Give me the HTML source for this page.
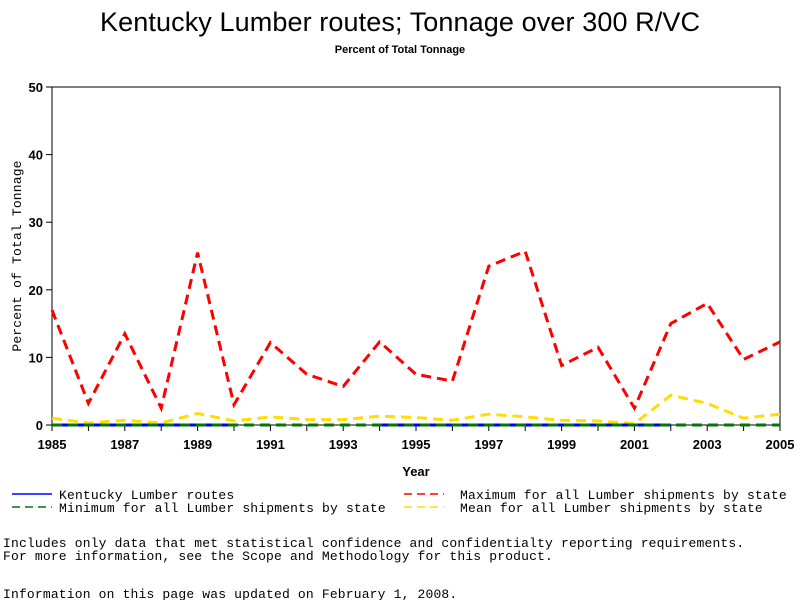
<!DOCTYPE html>
<html><head><meta charset="utf-8"><style>
body{margin:0;background:#fff;width:800px;height:600px;overflow:hidden}
svg text{font-family:"Liberation Sans",sans-serif}
.m{font-family:"Liberation Mono",monospace;font-size:13px;letter-spacing:0.17px}
</style></head><body>
<svg id="c" width="800" height="600" xmlns="http://www.w3.org/2000/svg">
<text x="400" y="31" text-anchor="middle" font-size="27" textLength="600">Kentucky Lumber routes; Tonnage over 300 R/VC</text>
<text x="400" y="53" text-anchor="middle" font-size="11" font-weight="bold">Percent of Total Tonnage</text>
<rect x="52" y="87" width="728" height="338" fill="none" stroke="#000"/>
<g id="axes"></g><g id="series"></g>
<text x="416" y="476" text-anchor="middle" font-size="13" font-weight="bold">Year</text>
<text transform="translate(21,256) rotate(-90)" text-anchor="middle" class="m" font-size="12">Percent of Total Tonnage</text>
<g>
<line x1="12" y1="494" x2="52" y2="494" stroke="#00f" stroke-width="1.5"/>
<text x="59" y="499" class="m">Kentucky Lumber routes</text>
<line x1="12" y1="507" x2="52" y2="507" stroke="#070" stroke-width="1.5" stroke-dasharray="8,5"/>
<text x="59" y="512" class="m">Minimum for all Lumber shipments by state</text>
<line x1="404" y1="494" x2="444" y2="494" stroke="#f00" stroke-width="1.5" stroke-dasharray="8,5"/>
<text x="460" y="499" class="m">Maximum for all Lumber shipments by state</text>
<line x1="404" y1="507" x2="444" y2="507" stroke="#fd0" stroke-width="1.5" stroke-dasharray="8,5"/>
<text x="460" y="512" class="m">Mean for all Lumber shipments by state</text>
</g>
<text x="3" y="547" class="m">Includes only data that met statistical confidence and confidentialty reporting requirements.</text>
<text x="3" y="560" class="m">For more information, see the Scope and Methodology for this product.</text>
<text x="3" y="598" class="m">Information on this page was updated on February 1, 2008.</text>
</svg>
<script>
const years=[1985,1986,1987,1988,1989,1990,1991,1992,1993,1994,1995,1996,1997,1998,1999,2000,2001,2002,2003,2004,2005];
const maxVals=[17,3.2,13.5,2.5,25.5,3,12.2,7.5,5.7,12.3,7.5,6.5,23.5,25.7,8.8,11.5,2.5,15,18,9.7,12.3];
const meanVals=[1,0.3,0.7,0.3,1.7,0.6,1.2,0.8,0.8,1.3,1.1,0.7,1.6,1.2,0.7,0.6,0.2,4.4,3.2,1,1.6];
const minVals=[0,0,0,0,0,0,0,0,0,0,0,0,0,0,0,0,0,0,0,0,0];
const kyVals=[0,0,0,0,0,0,null,null,null,0,0,0,0,0,0,0,0,0,null,null,null];
const yTicks=[0,10,20,30,40,50];
const xTickYears=[1985,1987,1989,1991,1993,1995,1997,1999,2001,2003,2005];
const NS="http://www.w3.org/2000/svg";
const X=y=>52+(y-1985)*(728/20), Y=v=>425-v*(338/50);
function mk(t,a,p){const e=document.createElementNS(NS,t);for(const k in a)e.setAttribute(k,a[k]);p.appendChild(e);return e;}
const ax=document.getElementById('axes');
yTicks.forEach(v=>{
 const l=mk('line',{x1:46,x2:52,y1:Y(v),y2:Y(v),stroke:'#000'},ax);
 
 
 const t=mk('text',{x:43,y:Y(v)+5,'text-anchor':'end','font-size':13,'font-weight':'bold'},ax);t.textContent=v;
 
 
});
years.forEach(y=>{const l=mk('line',{x1:X(y),x2:X(y),y1:425,y2:431,stroke:'#000'},ax);
 
 });
xTickYears.forEach(y=>{
 const t=mk('text',{x:X(y),y:449,'text-anchor':'middle','font-size':13,'font-weight':'bold'},ax);t.textContent=y;
 
 
});
const sg=document.getElementById('series');
function draw(vals,color,dash,name,w){
 let segs=[],cur=[];
 vals.forEach((v,i)=>{if(v==null){if(cur.length)segs.push(cur);cur=[];}else cur.push(X(years[i])+','+Y(v));});
 if(cur.length)segs.push(cur);
 segs.forEach(s=>{const p=mk('polyline',{points:s.join(' '),fill:'none',stroke:color,'stroke-width':w,'stroke-dasharray':dash},sg);
  
  });
}
draw(maxVals,'#f00','10,6','max-line',3);
draw(meanVals,'#fd0','10,6','mean-line',3);
draw(kyVals,'#00f','none','kentucky-line',3);
draw(minVals,'#070','10,6','min-line',3);
</script>
</body></html>
